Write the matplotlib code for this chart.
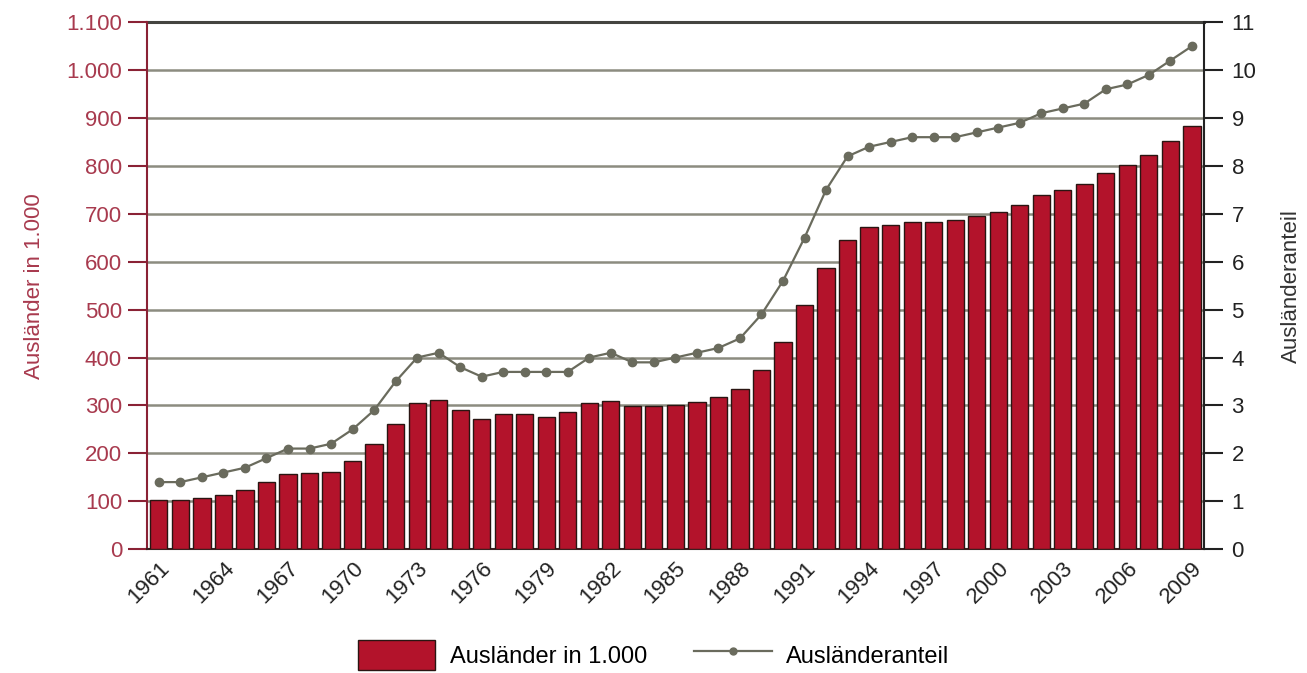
import matplotlib
matplotlib.use("Agg")
import matplotlib.pyplot as plt
from matplotlib.lines import Line2D
from matplotlib.patches import Patch

years = list(range(1961, 2010))
auslaender_1000 = [103, 103, 107, 114, 123, 140, 156, 159, 162, 184,
                   219, 262, 305, 312, 290, 272, 282, 282, 276, 286,
                   305, 309, 298, 298, 300, 307, 318, 334, 373, 433,
                   509, 587, 646, 672, 677, 683, 683, 687, 695, 703,
                   719, 739, 750, 762, 786, 801, 822, 852, 884]
auslaenderanteil = [1.4, 1.4, 1.5, 1.6, 1.7, 1.9, 2.1, 2.1, 2.2, 2.5,
                    2.9, 3.5, 4.0, 4.1, 3.8, 3.6, 3.7, 3.7, 3.7, 3.7,
                    4.0, 4.1, 3.9, 3.9, 4.0, 4.1, 4.2, 4.4, 4.9, 5.6,
                    6.5, 7.5, 8.2, 8.4, 8.5, 8.6, 8.6, 8.6, 8.7, 8.8,
                    8.9, 9.1, 9.2, 9.3, 9.6, 9.7, 9.9, 10.2, 10.5]
left_ticks = list(range(0, 1101, 100))
left_ticklabels = ["0", "100", "200", "300", "400", "500", "600", "700",
                   "800", "900", "1.000", "1.100"]
right_ticks = list(range(0, 12))

plt.rcParams['font.family'] = ['Liberation Sans', 'DejaVu Sans']

BAR = '#b3132b'
EDGE = '#2a1512'
LINE = '#6a6b5d'
RED_TXT = '#a83a4e'
GRID = '#8c8c80'

fig = plt.figure(figsize=(13.07, 6.73), dpi=100)
ax = fig.add_axes([0.1125, 0.184, 0.8085, 0.783])
ax2 = ax.twinx()

x = list(range(len(years)))
ax.bar(x, auslaender_1000, width=0.8, color=BAR, edgecolor=EDGE, linewidth=1.0, zorder=3)
ax.set_xlim(-0.55, len(years) - 0.45)
ax.set_ylim(0, 1100)
ax.set_yticks(left_ticks)
ax.set_yticklabels(left_ticklabels)
for t in left_ticks[1:]:
    if t < 1100:
        ax.axhline(t, color=GRID, lw=1.8, zorder=1)
    else:
        ax.axhline(t, color='#444440', lw=2.2, zorder=1, clip_on=False)

ax2.plot(x, auslaenderanteil, color=LINE, lw=1.6, marker='o', ms=6, zorder=5)
ax2.set_ylim(0, 11)
ax2.set_yticks(right_ticks)

ax.set_xticks(x[::3])
ax.set_xticklabels([str(y) for y in years[::3]], rotation=45, ha='right',
                   rotation_mode='anchor', fontsize=16, color='#222222')
ax.tick_params(axis='x', length=0, pad=6)
ax.tick_params(axis='y', colors='#8a2235', labelcolor=RED_TXT, labelsize=16,
               length=14, width=1.5, pad=4)
ax2.tick_params(axis='y', colors='#222222', labelsize=16, length=14, width=1.5, pad=6)

for s in ['top', 'right']:
    ax.spines[s].set_visible(False)
ax.spines['left'].set_color('#8a2235')
ax.spines['left'].set_linewidth(1.5)
ax.spines['bottom'].set_color('#3a2020')
ax.spines['bottom'].set_linewidth(1.5)
for s in ['top', 'left', 'bottom']:
    ax2.spines[s].set_visible(False)
ax2.spines['right'].set_color('#222222')
ax2.spines['right'].set_linewidth(1.5)

ax.set_ylabel("Ausländer in 1.000", color=RED_TXT, fontsize=16, labelpad=15)
ax2.set_ylabel("Ausländeranteil", color='#333333', fontsize=16, labelpad=18)

handles = [Patch(facecolor=BAR, edgecolor=EDGE, linewidth=1.0),
           Line2D([], [], color=LINE, lw=1.6, marker='o', ms=5)]
fig.legend(handles, ["Ausländer in 1.000", "Ausländeranteil"], loc='center',
           bbox_to_anchor=(0.5, 0.027), ncol=2, frameon=False, fontsize=17,
           handlelength=3.3, handleheight=1.6, columnspacing=2.0, handletextpad=0.6)

fig.savefig("out.png", dpi=100, facecolor='white')
